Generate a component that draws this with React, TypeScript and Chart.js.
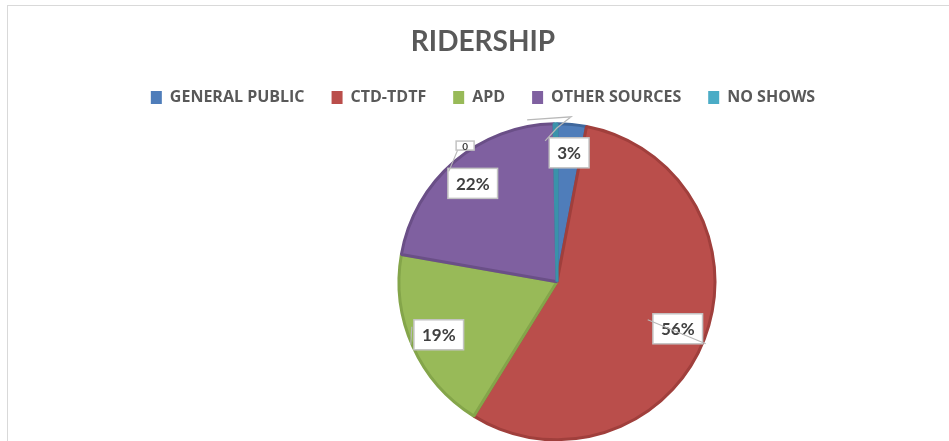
import React, { useEffect, useRef } from "react";
import { Chart, registerables } from "chart.js";

Chart.register(...registerables);

const titleText = "RIDERSHIP";
const categories = ["GENERAL PUBLIC", "CTD-TDTF", "APD", "OTHER SOURCES", "NO SHOWS"];
const values = [3, 56, 19, 22, 0.3];
const percentLabels = ["3%", "56%", "19%", "22%", "0"];
const fillColors = ["#4F7DBA", "#BA4E4B", "#98BA58", "#7F60A0", "#4BACC6"];
const borderColors = ["#3F679C", "#A03F3C", "#84A54A", "#6A4F87", "#3A92AA"];

const shiftPlugin = {
  id: "shiftArea",
  afterLayout(chart: any, _args: any, opts: any) {
    const a = chart.chartArea;
    a.left += opts.dx;
    a.right += opts.dx;
    a.top += opts.dy;
    a.bottom += opts.dy;
  },
};

const labelPlugin = {
  id: "sliceLabels",
  afterDatasetsDraw(chart: any, _args: any, opts: any) {
    const meta = chart.getDatasetMeta(0);
    const ctx = chart.ctx;
    meta.data.forEach((arc: any, i: number) => {
      const p = arc.getProps(["x", "y", "startAngle", "endAngle", "outerRadius"], true);
      const ov = (opts.overrides && opts.overrides[i]) || {};
      const mid = ov.angle != null ? (ov.angle * Math.PI) / 180 : (p.startAngle + p.endAngle) / 2;
      const r = p.outerRadius * (ov.r != null ? ov.r : opts.r);
      const cx = p.x + Math.cos(mid) * r;
      const cy = p.y + Math.sin(mid) * r;
      const size = ov.fontSize || opts.fontSize;
      ctx.save();
      ctx.font = `bold ${size}px Lato`;
      const tw = ctx.measureText(percentLabels[i]).width;
      const bw = ov.boxW || tw + opts.padX * 2;
      const bh = ov.boxH || opts.boxH;
      ctx.fillStyle = "#ffffff";
      ctx.fillRect(cx - bw / 2, cy - bh / 2, bw, bh);
      ctx.strokeStyle = "#c4c4c4";
      ctx.lineWidth = 1.5;
      ctx.strokeRect(cx - bw / 2, cy - bh / 2, bw, bh);
      ctx.fillStyle = "#404040";
      ctx.textAlign = "center";
      ctx.textBaseline = "middle";
      ctx.fillText(percentLabels[i], cx, cy + 1);
      if (ov.leader) {
        ctx.strokeStyle = "#b8b8b8";
        ctx.lineWidth = 1.2;
        ctx.beginPath();
        ov.leader.forEach((pt: number[], k: number) => {
          if (k === 0) ctx.moveTo(cx + pt[0], cy + pt[1]);
          else ctx.lineTo(cx + pt[0], cy + pt[1]);
        });
        ctx.stroke();
      }
      ctx.restore();
    });
  },
};

export default function App() {
  const ref = useRef<HTMLCanvasElement | null>(null);
  useEffect(() => {
    if (!ref.current) return;
    const chart = new Chart(ref.current, {
      type: "pie",
      data: {
        labels: categories,
        datasets: [
          {
            data: values,
            backgroundColor: fillColors,
            borderColor: borderColors,
            borderWidth: 3,
            radius: 158,
            clip: false,
          } as any,
        ],
      },
      options: {
        animation: false,
        responsive: true,
        maintainAspectRatio: false,
        layout: { padding: 0 },
        plugins: {
          title: {
            display: true,
            text: titleText,
            color: "#595959",
            font: { family: "Lato", size: 28, weight: "bold" },
            padding: { top: 19, bottom: 4 },
          },
          legend: {
            display: true,
            position: "top",
            labels: {
              boxWidth: 11,
              boxHeight: 13,
              padding: 27,
              color: "#595959",
              font: { family: "Open Sans", size: 16, weight: "bold" },
              generateLabels: () =>
                categories.map((c, i) => ({
                  text: c,
                  fillStyle: fillColors[i],
                  strokeStyle: fillColors[i],
                  lineWidth: 0,
                  hidden: false,
                  index: i,
                  fontColor: "#595959",
                })),
            },
          },
          tooltip: { enabled: false },
          shiftArea: { dx: 74, dy: 3 },
          sliceLabels: {
            r: 0.82,
            fontSize: 17,
            padX: 8,
            boxH: 30,
            overrides: {
              0: { leader: [[-42, -33], [2, -36], [-12, -25], [-24, -12]] },
              1: { leader: [[-30, -9], [28, 15]] },
              2: { leader: [[-27, -8], [-28, 10]] },
              3: { leader: [[-24, -12], [-14, -36]] },
              4: { angle: 236, r: 1.04, fontSize: 10, boxW: 18, boxH: 9 },
            },
          },
        } as any,
      },
      plugins: [shiftPlugin, labelPlugin],
    });
    return () => chart.destroy();
  }, []);

  return (
    <div
      style={{
        position: "fixed",
        left: 7,
        top: 5,
        width: 960,
        height: 450,
        borderTop: "1px solid #d9d9d9",
        borderLeft: "1px solid #d9d9d9",
        background: "#fff",
      }}
    >
      <div style={{ position: "absolute", left: 0, top: 0, width: 950, height: 436 }}>
        <canvas ref={ref} />
      </div>
    </div>
  );
}
